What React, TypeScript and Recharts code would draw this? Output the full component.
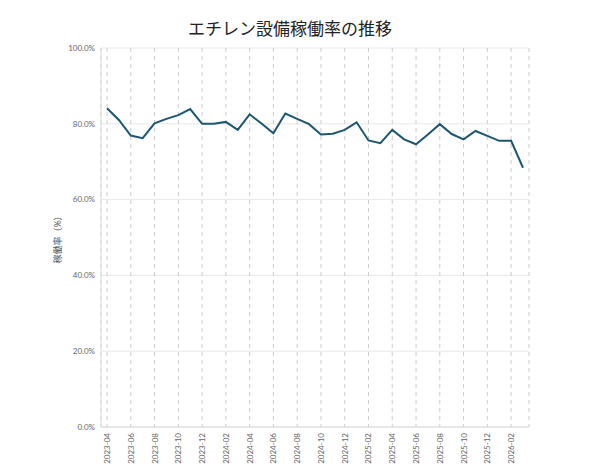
import React from 'react';
import { LineChart, Line, XAxis, YAxis, CartesianGrid } from 'recharts';

const months = [
  '2023-04','2023-05','2023-06','2023-07','2023-08','2023-09','2023-10','2023-11','2023-12',
  '2024-01','2024-02','2024-03','2024-04','2024-05','2024-06','2024-07','2024-08','2024-09','2024-10','2024-11','2024-12',
  '2025-01','2025-02','2025-03','2025-04','2025-05','2025-06','2025-07','2025-08','2025-09','2025-10','2025-11','2025-12',
  '2026-01','2026-02','2026-03',
];
const utilization = [
  84.1, 81.0, 76.9, 76.2, 80.1, 81.3, 82.3, 83.9, 80.0,
  80.0, 80.5, 78.4, 82.5, 80.1, 77.5, 82.7, 81.3, 79.9, 77.2, 77.4, 78.4,
  80.4, 75.6, 74.9, 78.4, 75.9, 74.6, 77.2, 79.9, 77.3, 75.9, 78.1, 76.8,
  75.5, 75.5, 68.4,
];
const xTicks = months.filter((_, i) => i % 2 === 0);
const yTicks = [0, 20, 40, 60, 80, 100];
const title = 'エチレン設備稼働率の推移';
const yLabel = '稼働率（%）';

const data = months.map((m, i) => ({ month: m, value: utilization[i] }));

const FONT = "Lato, 'Noto Sans CJK JP', 'Noto Sans', sans-serif";

const XTick = (props: any) => {
  const { x, y, payload } = props;
  return (
    <text
      x={x}
      y={y}
      transform={`rotate(-90 ${x} ${y})`}
      textAnchor="end"
      dominantBaseline="central"
      fontSize={8}
      fill="#666"
      fontFamily={FONT}
    >
      {payload.value}
    </text>
  );
};

const YLabel = (props: any) => {
  const vb = props.viewBox || {};
  const cx = 57;
  const cy = (vb.y ?? 48) + (vb.height ?? 379) / 2;
  return (
    <text
      x={cx}
      y={cy}
      transform={`rotate(-90 ${cx} ${cy})`}
      textAnchor="middle"
      dominantBaseline="central"
      fontSize={9}
      fill="#555"
      fontFamily={FONT}
    >
      {yLabel}
    </text>
  );
};

export default function App() {
  return (
    <div style={{ position: 'absolute', left: 0, top: 0, width: 590, height: 474, background: '#fff' }}>
      <div
        style={{
          position: 'absolute',
          left: 0,
          top: 17,
          width: 580,
          textAlign: 'center',
          fontSize: 17,
          lineHeight: '22px',
          color: '#222',
          fontFamily: "'Noto Sans CJK JP', sans-serif",
        }}
      >
        {title}
      </div>
      <LineChart
        width={590}
        height={474}
        data={data}
        margin={{ top: 48, right: 61, bottom: 0, left: 0 }}
      >
        <CartesianGrid horizontal={true} vertical={false} stroke="#e8e8e8" />
        <CartesianGrid horizontal={false} vertical={true} stroke="#cccccc" strokeDasharray="4 4" />
        <XAxis
          dataKey="month"
          ticks={xTicks}
          interval={0}
          height={47}
          padding={{ left: 6, right: 6 }}
          tickLine={false}
          tickSize={4}
          tickMargin={2}
          axisLine={{ stroke: '#dddddd' }}
          tick={<XTick />}
        />
        <YAxis
          width={101}
          domain={[0, 100]}
          ticks={yTicks}
          tickFormatter={(v: number) => `${v.toFixed(1)}%`}
          tickLine={false}
          tickSize={4}
          tickMargin={2}
          axisLine={{ stroke: '#dddddd' }}
          tick={{ fontSize: 8, fill: '#666', fontFamily: FONT }}
          label={<YLabel />}
        />
        <Line
          type="linear"
          dataKey="value"
          stroke="#1d5670"
          strokeWidth={2}
          dot={false}
          isAnimationActive={false}
        />
      </LineChart>
    </div>
  );
}
